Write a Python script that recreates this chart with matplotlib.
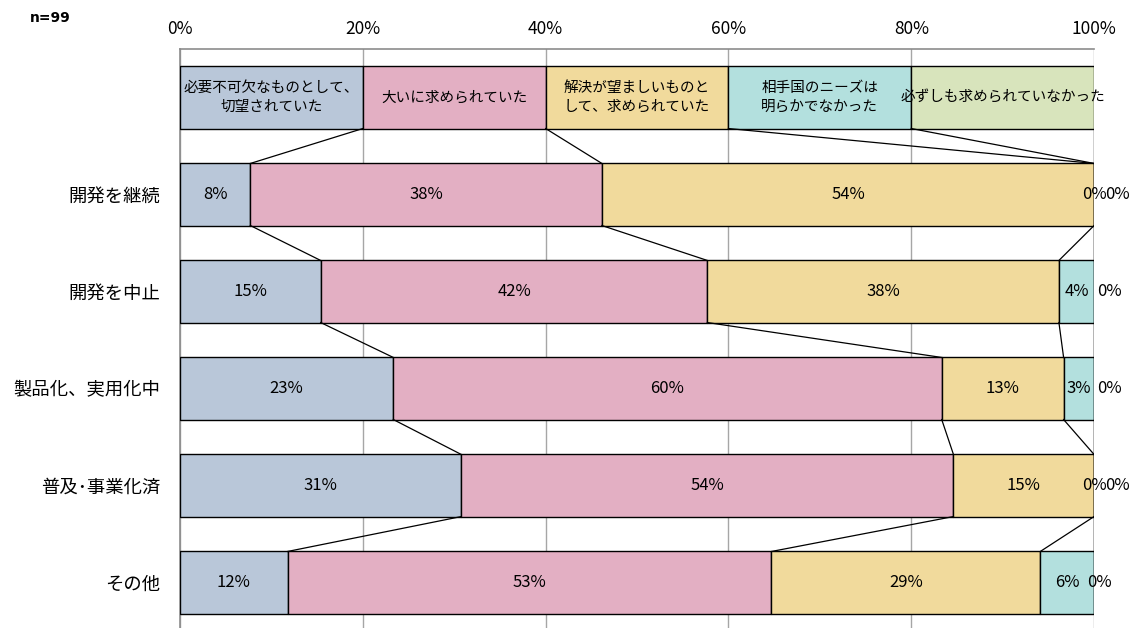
import matplotlib.pyplot as plt
import numpy as np

plt.rcParams['font.family'] = ['Noto Sans CJK JP', 'DejaVu Sans']

categories = ['開発を継続', '開発を中止', '製品化、実用化中', '普及･事業化済', 'その他']
series_names = ['必要不可欠なものとして、\n切望されていた',
                '大いに求められていた',
                '解決が望ましいものと\nして、求められていた',
                '相手国のニーズは\n明らかでなかった',
                '必ずしも求められていなかった']
colors = ['#B9C7D9', '#E3AFC3', '#F1DA9C', '#B3E0DE', '#D8E4BC']

# 件数 (n=99) -> 割合
counts = np.array([
    [1, 5, 7, 0, 0],
    [4, 11, 10, 1, 0],
    [7, 18, 4, 1, 0],
    [4, 7, 2, 0, 0],
    [2, 9, 5, 1, 0],
])
ticks = [0, 20, 40, 60, 80, 100]
legend_share = [20, 20, 20, 20, 20]

pct = counts / counts.sum(axis=1, keepdims=True) * 100

fig = plt.figure(figsize=(11.38, 6.28), dpi=100)
ax = fig.add_axes([0.1582, -0.0048, 0.8032, 0.9268])

h = 0.64

# 凡例の行 (一番上)
left = 0
for j, name in enumerate(series_names):
    ax.barh(0, legend_share[j], left=left, height=h, color=colors[j],
            edgecolor='black', linewidth=1, zorder=3)
    ax.text(left + legend_share[j] / 2, 0, name, ha='center', va='center',
            fontsize=10.5, linespacing=1.45, zorder=5)
    left += legend_share[j]

# 積み上げ棒
zero_off = [23, 15, 15, 23, 5]   # px, 重なる0%ラベルのずらし
for i, cat in enumerate(categories):
    y = i + 1
    left = 0
    for j in range(5):
        w = pct[i, j]
        ax.barh(y, w, left=left, height=h, color=colors[j],
                edgecolor='black', linewidth=1, zorder=3)
        lab = f"{int(round(w))}%"
        if j == 4:
            ax.annotate(lab, (left + w / 2, y), xytext=(zero_off[i] * 0.72, 0),
                        textcoords='offset points', ha='center', va='center',
                        fontsize=12, zorder=5)
        else:
            ax.text(left + w / 2, y, lab, ha='center', va='center',
                    fontsize=12, zorder=5)
        left += w

# 区分線
cum_rows = [np.cumsum(legend_share)] + [np.cumsum(r) for r in pct]
for i in range(len(cum_rows) - 1):
    for j in range(5):
        ax.plot([cum_rows[i][j], cum_rows[i + 1][j]], [i + h / 2, i + 1 - h / 2],
                color='black', lw=0.9, zorder=4)

ax.set_xlim(0, 100)
ax.set_ylim(5.5, -0.5)
ax.xaxis.tick_top()
ax.set_xticks(ticks)
ax.set_xticklabels([f"{t}%" for t in ticks], fontsize=12.5)
ax.tick_params(axis='x', length=0, pad=8)
ax.set_yticks(range(1, 6))
ax.set_yticklabels(categories, fontsize=13.2)
ax.tick_params(axis='y', length=0, pad=14)
ax.grid(axis='x', color='#A6A6A6', lw=1, zorder=0)
ax.set_axisbelow(True)
for s in ['right', 'bottom']:
    ax.spines[s].set_visible(False)
for s in ['left', 'top']:
    ax.spines[s].set_color('#8C8C8C')
    ax.spines[s].set_linewidth(1.2)

fig.text(0.026, 0.972, 'n=99', fontsize=10, fontweight='bold', family='DejaVu Sans',
         va='center')

fig.savefig('out.png', dpi=100)
